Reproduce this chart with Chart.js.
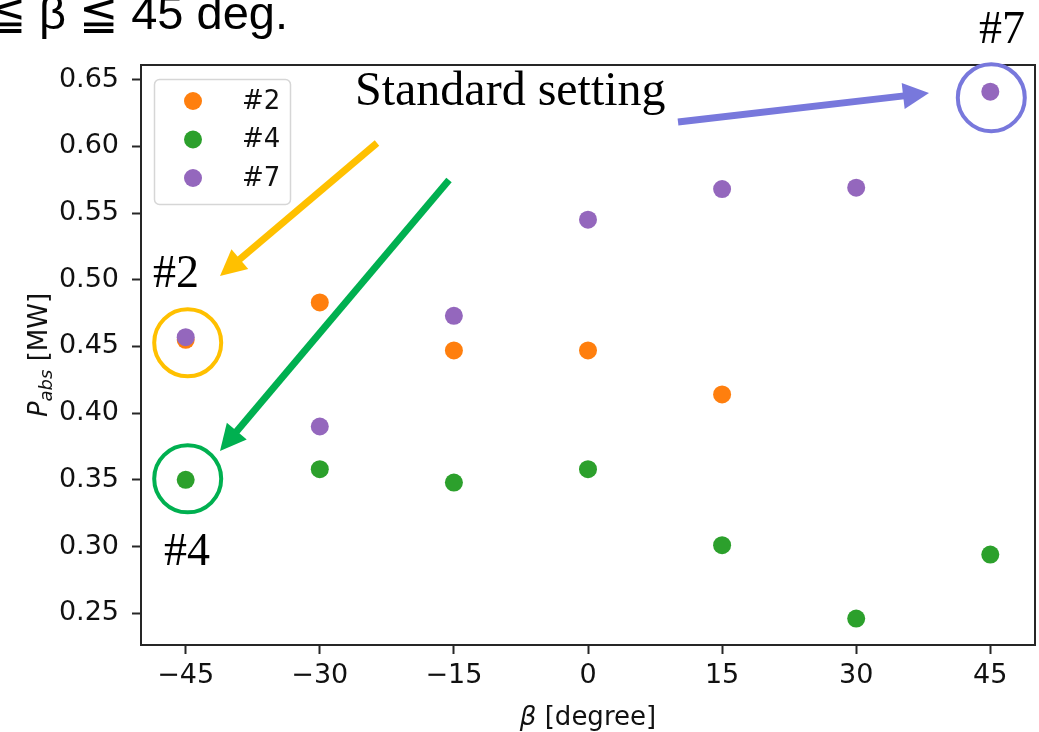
<!DOCTYPE html>
<html>
<head>
<meta charset="utf-8">
<script src="https://cdn.jsdelivr.net/npm/chart.js@4.4.0/dist/chart.umd.min.js"></script>
<style>
html,body{margin:0;padding:0;background:#fff;}
canvas{display:block;}
</style>
</head>
<body>
<canvas id="c" width="1039" height="732" style="width:1039px;height:732px"></canvas>
<script>
// ---- data ----
const betaDeg = [-45, -30, -15, 0, 15, 30, 45];
const seriesNames = ['#2', '#4', '#7'];
const pabs2 = [0.455, 0.483, 0.447, 0.447, 0.414, null, null];
const pabs4 = [0.350, 0.358, 0.348, 0.358, 0.301, 0.246, 0.294];
const pabs7 = [0.457, 0.390, 0.473, 0.545, 0.568, 0.569, 0.641];
const xTickValues = [-45, -30, -15, 0, 15, 30, 45];
const yTickValues = [0.25, 0.30, 0.35, 0.40, 0.45, 0.50, 0.55, 0.60, 0.65];

const colors = ['#ff7f0e', '#2ca02c', '#9467bd'];
function pts(vals){ return betaDeg.map((b,i)=>vals[i]==null?null:{x:b,y:vals[i]}).filter(p=>p); }

const TICKFONT = {family:'"DejaVu Sans"', size:27};

const overlay = {
  id:'overlay',
  afterDraw(chart){
    const ctx = chart.ctx, a = chart.chartArea;
    const xs = chart.scales.x, ys = chart.scales.y;
    ctx.save();
    // frame
    ctx.strokeStyle = '#262626'; ctx.lineWidth = 2;
    ctx.strokeRect(a.left, a.top, a.right-a.left, a.bottom-a.top);

    // legend
    const lx=154, ly=79, lw=136, lh=125;
    ctx.beginPath();
    ctx.roundRect(lx+0.5, ly+0.5, lw, lh, 5);
    ctx.fillStyle='rgba(255,255,255,0.8)'; ctx.fill();
    ctx.strokeStyle='#d6d6d6'; ctx.lineWidth=1.5; ctx.stroke();
    ctx.font = '26px "DejaVu Sans"'; ctx.textBaseline='middle'; ctx.textAlign='left';
    chart.data.datasets.forEach((ds,i)=>{
      const cy = ly + 22 + i*38.5;
      ctx.beginPath(); ctx.arc(193, cy, 9, 0, Math.PI*2);
      ctx.fillStyle = ds.backgroundColor; ctx.fill();
      ctx.fillStyle='#111'; ctx.fillText(ds.label, 242, cy+1);
    });

    // axis titles
    ctx.fillStyle='#111';
    ctx.textBaseline='alphabetic';
    const xt1='β', xt2=' [degree]';
    ctx.font='italic 26px "DejaVu Sans"'; const w1=ctx.measureText(xt1).width;
    ctx.font='26px "DejaVu Sans"'; const w2=ctx.measureText(xt2).width;
    let sx=(a.left+a.right)/2-(w1+w2)/2;
    ctx.font='italic 26px "DejaVu Sans"'; ctx.fillText(xt1, sx, 725);
    ctx.font='26px "DejaVu Sans"'; ctx.fillText(xt2, sx+w1, 725);
    // y title
    ctx.save();
    ctx.translate(47, (a.top+a.bottom)/2); ctx.rotate(-Math.PI/2);
    ctx.font='italic 26px "DejaVu Sans"'; const p1=ctx.measureText('P').width;
    ctx.font='italic 18px "DejaVu Sans"'; const p2=ctx.measureText('abs').width;
    ctx.font='26px "DejaVu Sans"'; const p3=ctx.measureText(' [MW]').width;
    let ty=-(p1+p2+p3)/2;
    ctx.font='italic 26px "DejaVu Sans"'; ctx.fillText('P', ty, 0);
    ctx.font='italic 18px "DejaVu Sans"'; ctx.fillText('abs', ty+p1, 5);
    ctx.font='26px "DejaVu Sans"'; ctx.fillText(' [MW]', ty+p1+p2, 0);
    ctx.restore();

    // top title fragment
    ctx.font='47px "Liberation Sans"'; ctx.textAlign='right'; ctx.fillStyle='#000';
    ctx.fillText('−45 deg. ≦ β ≦ 45 deg.', 288, 29);

    // annotation labels
    ctx.textAlign='left';
    ctx.font='48px "Liberation Serif"';
    ctx.fillText('Standard setting', 355, 105);
    ctx.font='46px "Liberation Serif"';
    ctx.fillText('#7', 979, 43);
    ctx.fillText('#2', 153, 287);
    ctx.fillText('#4', 164, 565);

    // circles
    function circ(cx,cy,r,col){ ctx.beginPath(); ctx.arc(cx,cy,r,0,Math.PI*2); ctx.strokeStyle=col; ctx.lineWidth=4; ctx.stroke(); }
    circ(xs.getPixelForValue(-45)+2, ys.getPixelForValue(0.455)+3, 33.5, '#ffc000');
    circ(xs.getPixelForValue(-45)+2, ys.getPixelForValue(0.350)-1, 33.5, '#00b050');
    circ(xs.getPixelForValue(45)+1, ys.getPixelForValue(0.641)+6, 33.5, '#7878dc');

    // arrows
    function arrow(x1,y1,x2,y2,col){
      const ang=Math.atan2(y2-y1,x2-x1), hl=26, hw=13;
      const bx=x2-hl*Math.cos(ang), by=y2-hl*Math.sin(ang);
      ctx.strokeStyle=col; ctx.lineWidth=7; ctx.lineCap='butt';
      ctx.beginPath(); ctx.moveTo(x1,y1); ctx.lineTo(bx+3*Math.cos(ang),by+3*Math.sin(ang)); ctx.stroke();
      ctx.fillStyle=col; ctx.beginPath();
      ctx.moveTo(x2,y2);
      ctx.lineTo(bx+hw*Math.sin(ang), by-hw*Math.cos(ang));
      ctx.lineTo(bx-hw*Math.sin(ang), by+hw*Math.cos(ang));
      ctx.closePath(); ctx.fill();
    }
    arrow(377,143,220,276,'#ffc000');
    arrow(449,180,220,451,'#00b050');
    arrow(678,122,929,93,'#7878dc');
    ctx.restore();
  }
};

new Chart(document.getElementById('c'), {
  type:'scatter',
  data:{
    datasets:[
      {label:seriesNames[0], data:pts(pabs2), backgroundColor:colors[0], borderColor:colors[0], order:3},
      {label:seriesNames[1], data:pts(pabs4), backgroundColor:colors[1], borderColor:colors[1], order:2},
      {label:seriesNames[2], data:pts(pabs7), backgroundColor:colors[2], borderColor:colors[2], order:1}
    ]
  },
  options:{
    responsive:false, devicePixelRatio:1, animation:false,
    layout:{autoPadding:false, padding:{top:65, right:4, left:0, bottom:0}},
    elements:{point:{radius:9, borderWidth:0, hoverRadius:9}},
    plugins:{legend:{display:false}, tooltip:{enabled:false}},
    scales:{
      x:{
        type:'linear', min:-50, max:50,
        afterBuildTicks:s=>{s.ticks=xTickValues.map(v=>({value:v}));},
        afterFit:s=>{s.height=87; s.paddingRight=0; s.paddingLeft=0;},
        ticks:{font:TICKFONT, color:'#111', padding:6, maxRotation:0, autoSkip:false,
          callback:v=>String(v).replace('-', '−')},
        grid:{display:true, drawOnChartArea:false, drawTicks:true, tickLength:9, tickWidth:2, color:'#262626'},
        border:{display:true, color:'#262626', width:2}
      },
      y:{
        type:'linear', min:0.2262, max:0.661,
        afterBuildTicks:s=>{s.ticks=yTickValues.map(v=>({value:v}));},
        afterFit:s=>{s.width=141; s.paddingTop=0; s.paddingBottom=0;},
        ticks:{font:TICKFONT, color:'#111', padding:13, autoSkip:false,
          callback:v=>Number(v).toFixed(2)},
        grid:{display:true, drawOnChartArea:false, drawTicks:true, tickLength:9, tickWidth:2, color:'#262626'},
        border:{display:true, color:'#262626', width:2}
      }
    }
  },
  plugins:[overlay]
});
</script>
</body>
</html>
